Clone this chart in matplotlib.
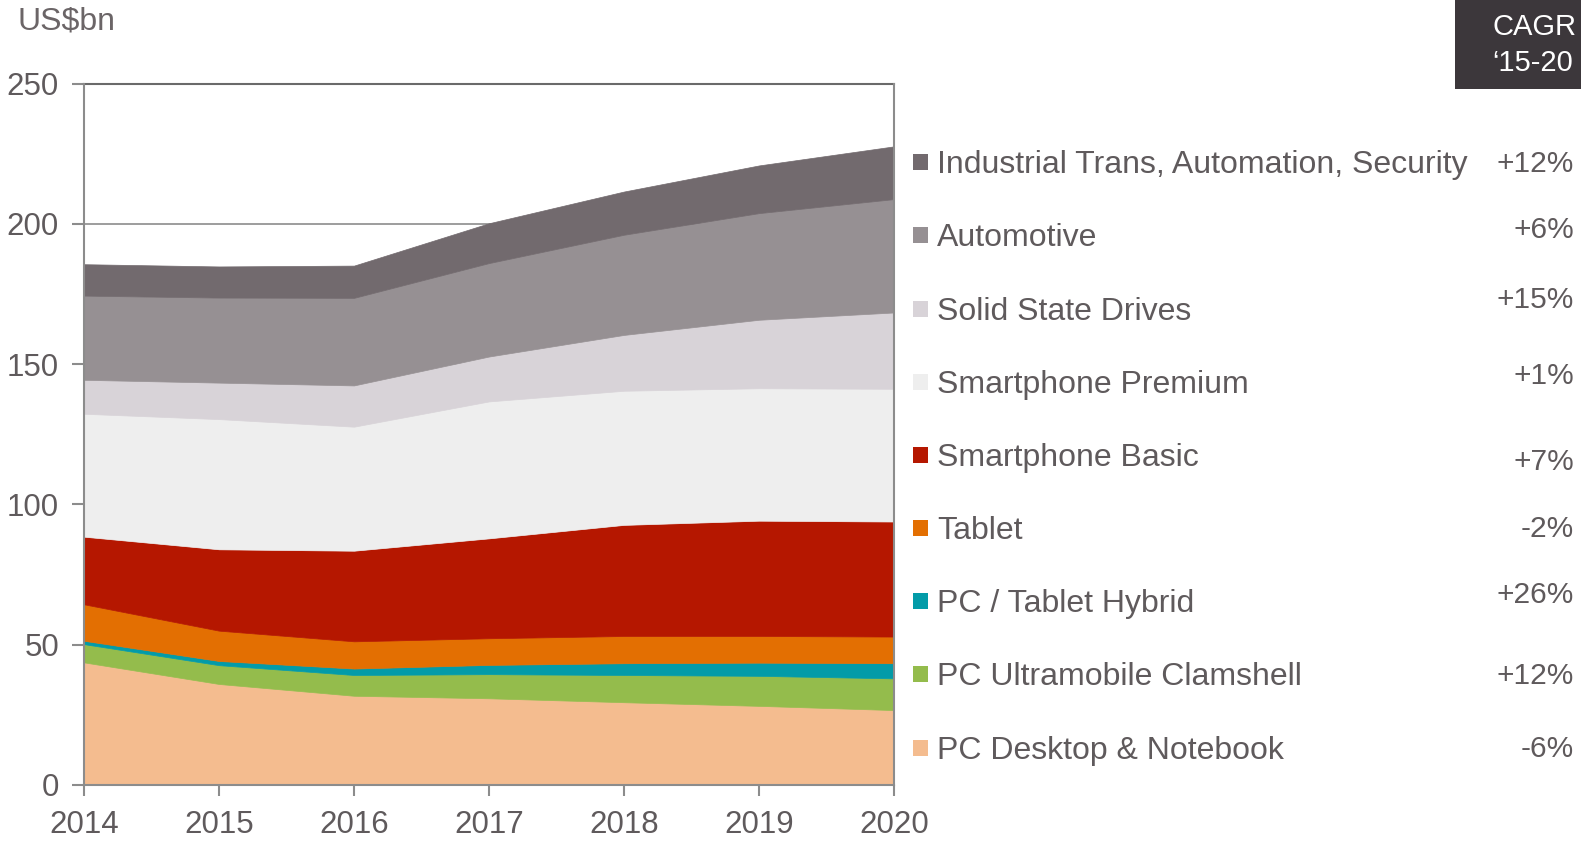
import matplotlib
matplotlib.use("Agg")
import matplotlib.pyplot as plt
from matplotlib.patches import Rectangle

plt.rcParams['font.family'] = ['Liberation Sans', 'DejaVu Sans']

years = [2014, 2015, 2016, 2017, 2018, 2019, 2020]

pc_desktop = [43.7, 36.0, 31.8, 30.9, 29.5, 28.2, 26.7]
pc_clamshell = [6.5, 6.7, 7.4, 8.6, 9.7, 10.7, 11.3]
pc_hybrid = [1.2, 1.5, 2.3, 3.3, 4.2, 4.7, 5.4]
tablet = [13.0, 10.8, 9.7, 9.5, 9.7, 9.5, 9.5]
smartphone_basic = [24.1, 29.0, 32.3, 35.6, 39.6, 41.1, 41.0]
smartphone_premium = [43.8, 46.4, 44.2, 48.8, 47.8, 47.2, 47.3]
ssd = [12.1, 13.0, 14.7, 16.0, 19.9, 24.4, 27.2]
automotive = [30.0, 30.3, 31.2, 33.3, 35.7, 38.0, 40.4]
industrial = [11.2, 11.1, 11.5, 14.2, 15.4, 17.0, 18.8]

series_names = ["PC Desktop & Notebook", "PC Ultramobile Clamshell", "PC / Tablet Hybrid",
                "Tablet", "Smartphone Basic", "Smartphone Premium", "Solid State Drives",
                "Automotive", "Industrial Trans, Automation, Security"]
cagr_labels = ["-6%", "+12%", "+26%", "-2%", "+7%", "+1%", "+15%", "+6%", "+12%"]
colors = ["#f4bc8f", "#94bc4c", "#039ba8", "#e36f02", "#b51700", "#eeeeee",
          "#d8d3d8", "#969093", "#726a6e"]

y_ticks = [0, 50, 100, 150, 200, 250]

W, H = 1581, 842
fig = plt.figure(figsize=(W / 100, H / 100), dpi=100)
ax = fig.add_axes([84 / W, 1 - 785 / H, (894 - 84) / W, (785 - 83.5) / H])

data = [pc_desktop, pc_clamshell, pc_hybrid, tablet, smartphone_basic,
        smartphone_premium, ssd, automotive, industrial]
polys = ax.stackplot(years, *data, colors=colors, zorder=2)
for p, c in zip(polys, colors):
    p.set_edgecolor(c)
    p.set_linewidth(0.5)

ax.set_xlim(2014, 2020)
ax.set_ylim(0, 250)
ax.set_xticks(years)
ax.set_yticks(y_ticks)
ax.yaxis.grid(True, color="#8c8c8c", linewidth=1.2, zorder=1)
ax.set_axisbelow(True)

txt_col = "#5f5a5c"
axis_col = "#8c8c8c"
for side in ["left", "bottom", "right"]:
    ax.spines[side].set_color(axis_col)
    ax.spines[side].set_linewidth(1.5)
    ax.spines[side].set_zorder(3)
ax.spines["top"].set_color("#6a6a6a")
ax.spines["top"].set_linewidth(1.5)

ax.tick_params(axis="y", direction="out", length=9, width=1.5, color=axis_col,
               labelsize=22.5, labelcolor=txt_col, pad=9)
ax.tick_params(axis="x", direction="out", length=8, width=1.5, color=axis_col,
               labelsize=22.5, labelcolor=txt_col, pad=10)

fig.text(18 / W, 1 - 22 / H, "US$bn", fontsize=23, color="#6b6567",
         ha="left", va="center")

# CAGR header box
fig.patches.append(Rectangle((1455 / W, 1 - 89 / H), (W - 1455) / W + 0.01, 89 / H + 0.01,
                             transform=fig.transFigure, facecolor="#3c373b",
                             edgecolor="none", zorder=1))
fig.text(1492 / W, 1 - 27 / H, "CAGR", fontsize=21, color="white", ha="left", va="center")
fig.text(1492 / W, 1 - 63 / H, "\u201815-20", fontsize=21, color="white", ha="left", va="center")

# legend, top to bottom
legend_y = [162, 235, 309, 382, 455, 528, 601, 674, 748]
cagr_y = [161, 227, 297, 373, 459, 526, 592, 673, 746]
order = list(range(len(series_names)))[::-1]
for row, idx in enumerate(order):
    yc = legend_y[row]
    fig.patches.append(Rectangle((913 / W, 1 - (yc + 8) / H), 15 / W, 16 / H,
                                 transform=fig.transFigure, facecolor=colors[idx],
                                 edgecolor="none"))
    fig.text(937 / W, 1 - (yc + 3) / H, series_names[idx], fontsize=23, color=txt_col,
             ha="left", va="center")
    fig.text(1574 / W, 1 - (cagr_y[row] + 3) / H, cagr_labels[idx], fontsize=21.5,
             color=txt_col, ha="right", va="center")

fig.savefig("out.png", dpi=100)
